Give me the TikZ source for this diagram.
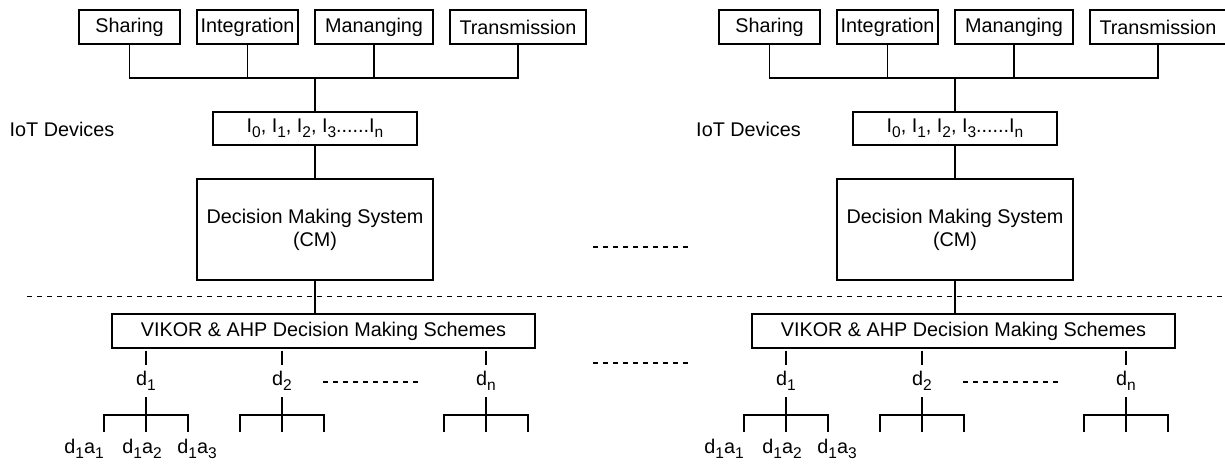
\documentclass[tikz,border=0pt]{standalone}
\usepackage{fontspec}
\setmainfont{Liberation Sans}
\usetikzlibrary{positioning}
\newcommand{\fsize}{\fontsize{19.8}{23}\selectfont}
\newcommand{\lowidx}[1]{\raisebox{-5pt}{\fontsize{15.5}{16}\selectfont #1}}
\tikzset{%
    box/.style={draw, line width=1.3pt, inner sep=0pt, minimum height=34pt,
        font=\fsize},
    lbl/.style={inner sep=0pt, font=\fsize},
    wire/.style={line width=1.3pt},
    dots/.style={line width=1.5pt, dash pattern=on 5pt off 5pt}
}

\begin{document}
\begin{tikzpicture}[x=1pt, y=-1pt]
    \useasboundingbox (0, 0) rectangle (1225, 464);

    \foreach \ox/\lx/\h in {0/62/L, 640/108.5/R}{%
    \begin{scope}[xshift=\ox pt]
        % data services
        \node[box, minimum width=101pt] (share\h) at (129.5, 27) {Sharing};
        \node[box, minimum width=101pt] (integ\h) at (247.5, 27) {Integration};
        \node[box, minimum width=118pt] (manag\h) at (374, 27) {Mananging};
        \node[box, minimum width=136pt] (trans\h) at (518, 27) {Transmission};
        \coordinate (bus\h) at (315, 78);

        % devices and decision system
        \node[box, minimum width=204pt, minimum height=33pt] (iot\h)
            at (315, 128.5) {I\lowidx{0}, I\lowidx{1}, I\lowidx{2},
            I\lowidx{3}......I\lowidx{n}};
        \node[lbl] (iotname\h) at (\lx, 129) {IoT Devices};
        \node[box, minimum width=236pt, minimum height=101pt, align=center]
            (dms\h) at (315, 229.5) {Decision Making System\\(CM)};
        \node[box, minimum width=423pt] (vikor\h) at (323.5, 331)
            {VIKOR \& AHP Decision Making Schemes};

        \draw[wire] (share\h.south) -- (share\h.south |- bus\h)
            -- (trans\h.south |- bus\h) -- (trans\h.south);
        \draw[wire] (integ\h.south) -- (integ\h.south |- bus\h);
        \draw[wire] (manag\h.south) -- (manag\h.south |- bus\h);
        \draw[wire] (bus\h) -- (iot\h.north);
        \draw[wire] (iot\h.south) -- (dms\h.north);
        \draw[wire] (dms\h.south) -- (dms\h.south |- vikor\h.north);

        % decisions and their alternatives
        \foreach \d/\cx in {1/146, 2/282, n/486}{%
            \node[lbl, minimum height=32pt] (d\d\h) at (\cx, 381)
                {d\lowidx{\d}};
            \coordinate (fork\d\h) at (\cx, 415);
            \coordinate (leafA\d\h) at (\cx-42, 432);
            \coordinate (leafB\d\h) at (\cx, 432);
            \coordinate (leafC\d\h) at (\cx+42, 432);
            \draw[wire] ([yshift=-2pt] vikor\h.south -| d\d\h) -- (d\d\h.north);
            \draw[wire] (d\d\h.south) -- (fork\d\h);
            \draw[wire] (leafA\d\h) |- (fork\d\h) -| (leafC\d\h);
            \draw[wire] (fork\d\h) -- (leafB\d\h);
        }
        \node[lbl] (alt1\h) at (84, 449) {d\lowidx{1}a\lowidx{1}};
        \node[lbl] (alt2\h) at (142, 449) {d\lowidx{1}a\lowidx{2}};
        \node[lbl] (alt3\h) at (197, 449) {d\lowidx{1}a\lowidx{3}};
        \draw[dots] (323, 382) -- (420, 382);
    \end{scope}}

    % gaps between the two systems
    \draw[dots] (27, 296.5) -- (1225, 296.5);
    \draw[dots] (593, 247) -- (690, 247);
    \draw[dots] (593, 363) -- (690, 363);
\end{tikzpicture}
\end{document}
